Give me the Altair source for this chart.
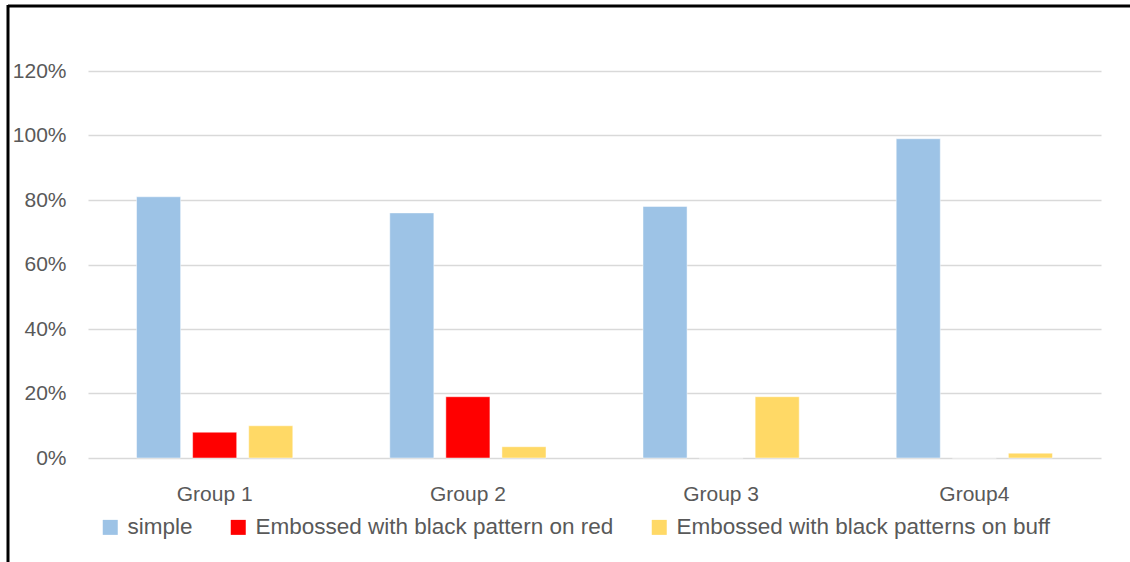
import altair as alt
import pandas as pd

groups = ["Group 1", "Group 2", "Group 3", "Group4"]
series = ["simple", "Embossed with black pattern on red", "Embossed with black patterns on buff"]
simple = [0.81, 0.76, 0.78, 0.99]
red = [0.08, 0.19, 0.0, 0.0]
buff = [0.10, 0.035, 0.19, 0.015]
colors = ["#9DC3E6", "#FF0000", "#FFD966"]
y_ticks = [0, 0.2, 0.4, 0.6, 0.8, 1.0, 1.2]

rows = []
for i, g in enumerate(groups):
    for s, vals in zip(series, [simple, red, buff]):
        rows.append({"group": g, "series": s, "value": vals[i]})
df = pd.DataFrame(rows)

FONT = "Liberation Sans"
LABEL = "#595959"

bars = alt.Chart(df).mark_bar(stroke="white", strokeWidth=0.8, strokeOpacity=0.6).encode(
    x=alt.X("group:N", sort=groups,
            scale=alt.Scale(paddingInner=0.383, paddingOuter=0.1917),
            axis=alt.Axis(title=None, labelAngle=0, ticks=False, domain=False,
                          labelPadding=25, labelFontSize=21, labelColor=LABEL,
                          labelFont=FONT)),
    xOffset=alt.XOffset("series:N", sort=series,
                        scale=alt.Scale(paddingInner=0.214, paddingOuter=0)),
    y=alt.Y("value:Q", scale=alt.Scale(domain=[0, 1.2], nice=False),
            axis=alt.Axis(title=None, format=".0%", values=y_ticks, ticks=False,
                          domain=False, labelPadding=22, labelFontSize=21,
                          labelColor=LABEL, labelFont=FONT,
                          gridColor="#D9D9D9", gridWidth=1.5)),
    color=alt.Color("series:N", sort=series,
                    scale=alt.Scale(domain=series, range=colors),
                    legend=alt.Legend(title=None, orient="none", direction="horizontal",
                                      legendX=11, legendY=445,
                                      symbolType="square", symbolSize=225,
                                      symbolStrokeWidth=0, labelFontSize=22.5,
                                      labelColor=LABEL, labelFont=FONT, labelLimit=0,
                                      labelOffset=6, columnPadding=34)),
)

border = alt.Chart(pd.DataFrame({"k": [0]})).mark_rule(color="black", strokeWidth=3).encode(
    x=alt.value(-80), x2=alt.value(1050), y=alt.value(-65), y2=alt.value(-65))
border_left = alt.Chart(pd.DataFrame({"k": [0]})).mark_rule(color="black", strokeWidth=3).encode(
    x=alt.value(-80), x2=alt.value(-80), y=alt.value(-66), y2=alt.value(500))

chart = alt.layer(bars, border, border_left).properties(
    width=1013, height=387,
    padding={"left": 88, "top": 71, "right": 29, "bottom": 104},
    autosize=alt.AutoSizeParams(type="none"),
    background="white",
).configure_view(stroke=None)

chart.save("out.html", embed_options={"renderer": "svg", "actions": False})
